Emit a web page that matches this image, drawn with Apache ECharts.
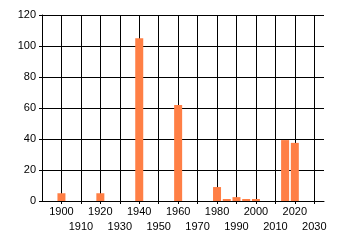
<!DOCTYPE html>
<html>
<head>
<meta charset="utf-8">
<script src="https://cdn.jsdelivr.net/npm/echarts@6/dist/echarts.min.js"></script>
<style>
html,body{margin:0;padding:0;background:#fff;}
#c{width:340px;height:245px;}
</style>
</head>
<body>
<div id="c"></div>
<script>
const years = [1900, 1920, 1940, 1960, 1980, 1985, 1990, 1995, 2000, 2015, 2020];
const values = [5, 5, 105, 62, 9, 1.3, 2.5, 1.3, 1.3, 39.3, 37.5];
const yTicks = [0, 20, 40, 60, 80, 100, 120];
const xRange = [1890, 2035];

const chart = echarts.init(document.getElementById('c'), null, {renderer: 'canvas'});
const font = 'Liberation Sans';
chart.setOption({
  animation: false,
  grid: {left: 42, top: 15, right: 16, bottom: 44, containLabel: false},
  xAxis: {
    type: 'value',
    min: xRange[0], max: xRange[1], interval: 10,
    axisLine: {show: true, lineStyle: {color: '#000', width: 1}},
    axisTick: {show: true, length: 3, lineStyle: {color: '#000'}},
    splitLine: {show: true, showMinLine: false, showMaxLine: false, lineStyle: {color: '#000', width: 1}},
    axisLabel: {
      showMinLabel: false, showMaxLabel: false,
      color: '#000', fontFamily: font, fontSize: 11, margin: 3, lineHeight: 15,
      formatter: v => (v % 20 === 0 ? String(v) : '\n' + v)
    }
  },
  yAxis: {
    type: 'value',
    min: yTicks[0], max: yTicks[yTicks.length - 1], interval: 20,
    axisLine: {show: true, lineStyle: {color: '#000', width: 1}},
    axisTick: {show: true, length: 3, lineStyle: {color: '#000'}},
    splitLine: {show: true, lineStyle: {color: '#000', width: 1}},
    axisLabel: {color: '#000', fontFamily: font, fontSize: 11, margin: 6}
  },
  series: [{
    type: 'bar',
    barWidth: 8,
    itemStyle: {color: '#FF7F45'},
    data: years.map((y, i) => [y, values[i]])
  }]
});
</script>
</body>
</html>
